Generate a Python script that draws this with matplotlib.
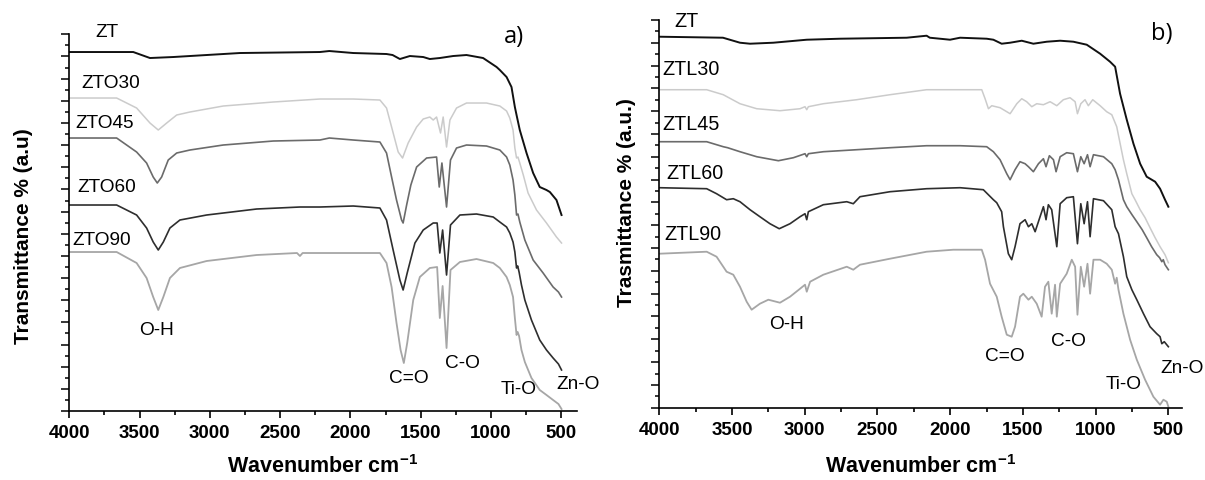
import matplotlib
matplotlib.use("Agg")
import matplotlib.pyplot as plt
from matplotlib.ticker import MultipleLocator

plt.rcParams['font.family'] = ['Liberation Sans', 'DejaVu Sans']
plt.rcParams['mathtext.fontset'] = 'custom'
plt.rcParams['mathtext.rm'] = 'Liberation Sans'
plt.rcParams['mathtext.bf'] = 'Liberation Sans:bold'

# ---- panel a) : ZnO/TiO2 with oxalic series (wavenumber, transmittance a.u.) ----
zt_a_wn = [4000, 3663, 3545, 3426, 3260, 3023, 2786, 2217, 2150, 1980, 1743, 1700, 1648, 1577,
           1482, 1435, 1364, 1269, 1174, 1056, 960, 937, 889, 854, 830, 818, 795, 747, 700, 653,
           605, 581, 534, 498]
zt_a_t = [359, 359, 359, 353, 354, 356, 358, 359, 360, 358, 357, 356, 352, 355,
          354, 352, 353, 355, 356, 353, 344, 341, 334, 324, 304, 296, 281, 258, 238, 224,
          221, 219, 211, 196]

zto30_wn = [4000, 3663, 3521, 3426, 3367, 3307, 3236, 3142, 2905, 2549, 2217, 1980, 1790, 1743,
            1707, 1660, 1629, 1589, 1529, 1482, 1435, 1411, 1387, 1359, 1340, 1316, 1292, 1245,
            1174, 1032, 937, 889, 866, 843, 830, 818, 808, 795, 770, 736, 676, 605, 534, 498]
zto30_t = [313, 313, 303, 288, 281, 288, 296, 299, 305, 309, 312, 312, 311, 303,
           284, 259, 253, 268, 284, 292, 294, 291, 294, 278, 294, 264, 291, 303,
           308, 308, 305, 300, 293, 281, 263, 253, 254, 248, 236, 218, 201, 188, 174, 168]

zto45_wn = [4000, 3663, 3521, 3450, 3403, 3374, 3343, 3296, 3236, 3142, 2905, 2549, 2217, 2150,
            1980, 1790, 1743, 1707, 1672, 1636, 1625, 1600, 1570, 1529, 1458, 1387, 1368, 1349,
            1316, 1288, 1245, 1174, 1032, 937, 889, 866, 843, 830, 818, 808, 795, 759, 700, 629,
            558, 520, 498]
zto45_t = [273, 273, 259, 248, 234, 228, 234, 251, 258, 261, 266, 270, 271, 273,
           271, 269, 258, 234, 211, 191, 188, 206, 226, 244, 253, 254, 224, 248,
           204, 251, 263, 266, 265, 261, 254, 246, 231, 216, 196, 197, 189, 171, 151, 138,
           124, 119, 114]

zto60_wn = [4000, 3663, 3521, 3450, 3403, 3367, 3331, 3284, 3213, 3023, 2667, 2359, 2217, 1980,
            1790, 1743, 1696, 1648, 1625, 1596, 1541, 1482, 1411, 1383, 1364, 1344, 1316, 1288,
            1221, 1103, 984, 937, 889, 866, 843, 830, 818, 810, 800, 783, 759, 712, 653, 605,
            558, 520, 498]
zto60_t = [206, 206, 196, 183, 169, 161, 169, 183, 191, 196, 202, 204, 204, 205,
           203, 191, 161, 131, 121, 138, 168, 181, 188, 188, 158, 181, 136, 186,
           196, 197, 194, 189, 184, 178, 169, 159, 143, 145, 139, 126, 111, 91, 71, 61,
           53, 47, 41]

zto90_wn = [4000, 3663, 3521, 3450, 3403, 3367, 3331, 3284, 3213, 3023, 2667, 2380, 2359, 2340,
            2217, 1980, 1790, 1743, 1707, 1672, 1643, 1620, 1596, 1553, 1506, 1435, 1383, 1364,
            1344, 1316, 1288, 1221, 1103, 984, 937, 889, 866, 843, 830, 818, 810, 800, 783, 759,
            712, 653, 605, 558, 520, 498]
zto90_t = [159, 159, 148, 133, 114, 101, 114, 133, 143, 150, 156, 158, 155, 158,
           158, 158, 158, 148, 124, 88, 61, 48, 68, 111, 134, 143, 144, 93,
           125, 63, 141, 149, 152, 148, 143, 134, 126, 114, 93, 76, 79, 75, 61, 49,
           33, 21, 16, 11, 7, 2]

# ---- panel b) : lactic series ----
zt_b_wn = [4000, 3562, 3445, 3376, 3216, 2986, 2757, 2299, 2162, 2140, 2001, 1932, 1749, 1703,
           1646, 1588, 1508, 1428, 1336, 1244, 1153, 1061, 969, 901, 866, 832, 786, 740, 694,
           649, 591, 557, 523, 500]
zt_b_t = [371, 370, 365, 364, 365, 368, 369, 370, 372, 370, 368, 370, 369, 368,
          364, 365, 367, 364, 366, 367, 366, 363, 354, 346, 341, 314, 288, 264, 244,
          231, 226, 219, 208, 201]

ztl30_wn = [4000, 3674, 3560, 3445, 3330, 3170, 3032, 2998, 2986, 2975, 2872, 2643, 2414, 2162,
            1932, 1783, 1760, 1737, 1714, 1657, 1588, 1542, 1508, 1474, 1439, 1405, 1359, 1313,
            1267, 1222, 1176, 1141, 1125, 1102, 1073, 1050, 1020, 969, 924, 889, 855, 809, 786,
            751, 729, 694, 660, 626, 591, 557, 523, 500]
ztl30_t = [318, 318, 313, 304, 299, 297, 299, 301, 298, 301, 304, 308, 313, 318,
           318, 318, 309, 299, 302, 300, 294, 304, 309, 306, 301, 304, 303, 306,
           302, 308, 310, 306, 294, 304, 308, 302, 308, 302, 296, 293, 281, 248, 234,
           214, 208, 198, 190, 180, 170, 161, 153, 145]

ztl45_wn = [4000, 3674, 3560, 3530, 3445, 3330, 3181, 3078, 2998, 2986, 2975, 2872, 2643, 2414,
            2162, 1932, 1749, 1703, 1657, 1611, 1588, 1554, 1520, 1485, 1462, 1428, 1393, 1359,
            1341, 1318, 1290, 1272, 1244, 1199, 1153, 1125, 1102, 1079, 1056, 1038, 1015, 946,
            889, 866, 843, 809, 786, 750, 717, 680, 649, 615, 580, 560, 545, 535, 523, 500]
ztl45_t = [266, 266, 261, 260, 256, 251, 247, 250, 254, 251, 254, 256, 258, 260,
           262, 262, 261, 256, 248, 234, 228, 238, 246, 244, 241, 236, 244, 249,
           241, 252, 248, 236, 251, 255, 254, 236, 251, 244, 253, 241, 253, 251,
           244, 238, 228, 208, 201, 193, 186, 178, 170, 161, 153, 150, 146, 148, 143, 138]

ztl60_wn = [4000, 3674, 3606, 3537, 3491, 3445, 3376, 3308, 3239, 3175, 3101, 3032, 2998, 2986,
            2975, 2872, 2711, 2666, 2620, 2414, 2162, 1932, 1772, 1703, 1680, 1646, 1634, 1600,
            1577, 1554, 1520, 1485, 1462, 1439, 1416, 1382, 1359, 1341, 1325, 1302, 1267, 1244,
            1199, 1153, 1125, 1102, 1079, 1056, 1038, 1015, 946, 889, 866, 843, 809, 786, 751,
            717, 671, 626, 580, 557, 545, 528, 500]
ztl60_t = [220, 219, 214, 208, 209, 206, 198, 191, 184, 179, 184, 191, 194, 188,
           196, 203, 206, 204, 211, 216, 219, 220, 218, 208, 205, 196, 181, 154,
           148, 161, 184, 188, 181, 184, 176, 191, 201, 188, 203, 198, 161, 204,
           210, 211, 164, 204, 184, 206, 171, 209, 207, 198, 181, 174, 151, 131, 118,
           108, 94, 81, 74, 71, 64, 66, 61]

ztl90_wn = [4000, 3674, 3606, 3537, 3491, 3445, 3399, 3365, 3308, 3250, 3170, 3101, 3032, 2998,
            2986, 2963, 2872, 2711, 2666, 2620, 2414, 2162, 1978, 1783, 1760, 1726, 1680, 1646,
            1611, 1577, 1554, 1520, 1497, 1462, 1439, 1405, 1371, 1348, 1325, 1302, 1279, 1267,
            1244, 1199, 1164, 1141, 1125, 1102, 1079, 1056, 1038, 1015, 969, 924, 889, 866, 855,
            843, 809, 763, 717, 660, 603, 557, 534, 511, 500]
ztl90_t = [154, 156, 151, 136, 133, 121, 106, 98, 104, 108, 105, 111, 119, 123,
           116, 126, 133, 141, 138, 143, 149, 156, 158, 158, 148, 124, 111, 91,
           73, 71, 81, 111, 114, 108, 111, 104, 91, 121, 126, 94, 123, 91,
           124, 134, 148, 141, 93, 141, 121, 144, 114, 148, 148, 144, 138, 124, 130,
           118, 94, 68, 48, 28, 11, 3, 8, 6, 1]

labels_a = ["ZT", "ZTO30", "ZTO45", "ZTO60", "ZTO90"]
labels_b = ["ZT", "ZTL30", "ZTL45", "ZTL60", "ZTL90"]
bands = ["O-H", "C=O", "C-O", "Ti-O", "Zn-O"]
xticks = [4000, 3500, 3000, 2500, 2000, 1500, 1000, 500]

colors = ['#111111', '#cbcbcb', '#6b6b6b', '#2e2e2e', '#a6a6a6']
widths = [1.4, 1.1, 1.2, 1.2, 1.3]

fig = plt.figure(figsize=(12.05, 4.8), dpi=100)
ax_a = fig.add_axes([0.0575, 0.14375, 0.4211, 0.78475])
ax_b = fig.add_axes([0.5471, 0.1506, 0.4336, 0.8077])

series_a = [(zt_a_wn, zt_a_t), (zto30_wn, zto30_t), (zto45_wn, zto45_t),
            (zto60_wn, zto60_t), (zto90_wn, zto90_t)]
series_b = [(zt_b_wn, zt_b_t), (ztl30_wn, ztl30_t), (ztl45_wn, ztl45_t),
            (ztl60_wn, ztl60_t), (ztl90_wn, ztl90_t)]


def style_axes(ax, xmin, ytop):
    ax.set_xlim(4000, xmin)
    ax.set_ylim(0, ytop)
    ax.spines['top'].set_visible(False)
    ax.spines['right'].set_visible(False)
    for s in ['left', 'bottom']:
        ax.spines[s].set_linewidth(1.2)
    ax.set_xticks(xticks)
    ax.xaxis.set_minor_locator(MultipleLocator(250))
    ax.yaxis.set_major_locator(MultipleLocator(ytop / 17.0))
    ax.yaxis.set_minor_locator(MultipleLocator(ytop / 34.0))
    ax.set_yticklabels([])
    ax.tick_params(axis='x', which='major', direction='out', length=5, width=1.2,
                   labelsize=13.5, pad=5)
    ax.tick_params(axis='x', which='minor', direction='out', length=2.6, width=1.2)
    ax.tick_params(axis='y', which='major', direction='out', length=5.5, width=1.1,
                   labelleft=False)
    ax.tick_params(axis='y', which='minor', direction='out', length=2.8, width=1.1)
    for lab in ax.get_xticklabels():
        lab.set_fontweight('bold')


for (wn, t), c, lw in zip(series_a, colors, widths):
    ax_a.plot(wn, t, color=c, lw=lw)
for (wn, t), c, lw in zip(series_b, colors, widths):
    ax_b.plot(wn, t, color=c, lw=lw)

style_axes(ax_a, 390, 376.7)
style_axes(ax_b, 408, 387.7)

# sample names
for name, pos in zip(labels_a, [(3734, 379), (3708, 328), (3746, 288), (3730, 224), (3773, 171)]):
    ax_a.text(pos[0], pos[1], name, ha='center', va='center', fontsize=13.7)
for name, pos in zip(labels_b, [(3812, 386), (3783, 338), (3783, 283), (3754, 234), (3766, 173)]):
    ax_b.text(pos[0], pos[1], name, ha='center', va='center', fontsize=14.2)

# band assignments
for name, pos in zip(bands, [(3383, 81), (1588, 33), (1204, 48), (802, 22), (382, 27)]):
    ax_a.text(pos[0], pos[1], name, ha='center', va='center', fontsize=13.7)
for name, pos in zip(bands, [(3124, 83), (1623, 51), (1187, 66), (809, 23), (407, 39)]):
    ax_b.text(pos[0], pos[1], name, ha='center', va='center', fontsize=13.7)

ax_a.text(837, 374, "a)", ha='center', va='center', fontsize=17, family='Open Sans')
ax_b.text(545, 374, "b)", ha='center', va='center', fontsize=17, family='Open Sans')

fig.text(0.0199, 0.508, "Transmittance % (a.u)", rotation=90, ha='center', va='center',
         fontsize=15, fontweight='bold')
fig.text(0.5203, 0.577, "Trasmittance % (a.u.)", rotation=90, ha='center', va='center',
         fontsize=15, fontweight='bold')
fig.text(0.268, 0.004, r"Wavenumber cm$^{\mathbf{-1}}$", ha='center', va='bottom',
         fontsize=15.5, fontweight='bold')
fig.text(0.7639, 0.004, r"Wavenumber cm$^{\mathbf{-1}}$", ha='center', va='bottom',
         fontsize=15.5, fontweight='bold')

fig.savefig("out.png", dpi=100)
